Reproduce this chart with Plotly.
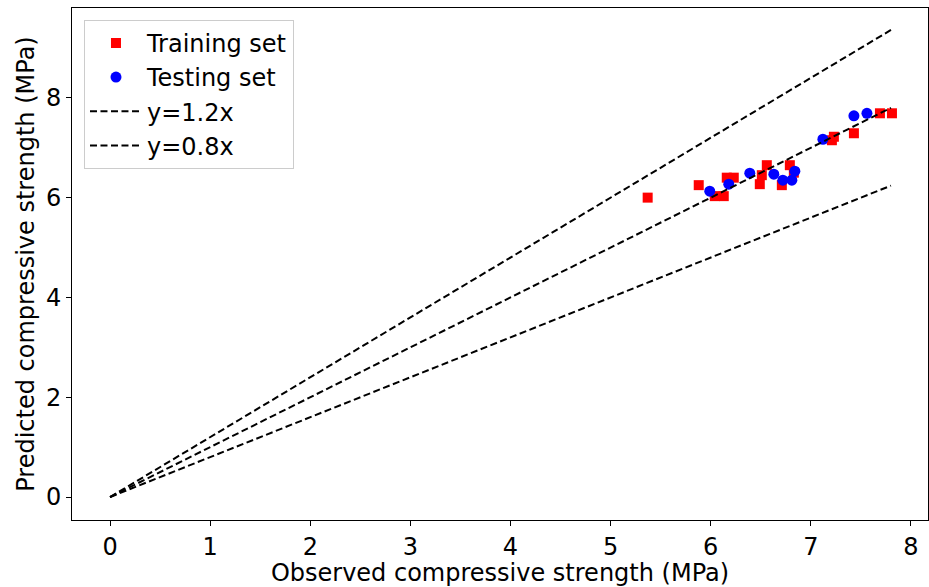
import plotly.graph_objects as go

train_x = [5.37, 5.88, 6.04, 6.13, 6.16, 6.23, 6.49, 6.51, 6.56, 6.71, 6.79, 6.83, 7.21, 7.23, 7.43, 7.69, 7.81]
train_y = [6.00, 6.25, 6.03, 6.03, 6.40, 6.40, 6.27, 6.45, 6.65, 6.25, 6.65, 6.50, 7.15, 7.22, 7.29, 7.69, 7.69]
test_x = [5.99, 6.18, 6.39, 6.63, 6.72, 6.81, 6.84, 7.12, 7.43, 7.56]
test_y = [6.13, 6.27, 6.49, 6.47, 6.35, 6.35, 6.53, 7.17, 7.64, 7.69]
line_x = [0, 7.8]
ratios = [1.2, 1.0, 0.8]
ratio_names = ["y=1.2x", "y=x", "y=0.8x"]
x_ticks = [0, 1, 2, 3, 4, 5, 6, 7, 8]
y_ticks = [0, 2, 4, 6, 8]

FS = 24

fig = go.Figure()
fig.add_trace(go.Scatter(x=train_x, y=train_y, mode="markers", name="Training set",
                         marker=dict(symbol="square", color="red", size=10)))
fig.add_trace(go.Scatter(x=test_x, y=test_y, mode="markers", name="Testing set",
                         marker=dict(symbol="circle", color="blue", size=11)))
for r, nm in zip(ratios, ratio_names):
    fig.add_trace(go.Scatter(x=line_x, y=[r * v for v in line_x], mode="lines", name=nm,
                             showlegend=(r != 1.0),
                             line=dict(color="black", width=2, dash="7px,3.5px")))

axis_common = dict(showgrid=False, zeroline=False, showline=True, linecolor="black", linewidth=1,
                   mirror=True, ticks="outside", ticklen=5, tickcolor="black",
                   tickfont=dict(size=FS, color="black"))
fig.update_layout(
    width=929, height=587,
    margin=dict(l=72, r=1, t=8, b=67),
    plot_bgcolor="white", paper_bgcolor="white",
    font=dict(family="DejaVu Sans", color="black"),
    xaxis=dict(range=[-0.38, 8.17], tickvals=x_ticks,
               title=dict(text="Observed compressive strength (MPa)", font=dict(size=FS), standoff=0),
               **axis_common),
    yaxis=dict(range=[-0.46, 9.8], tickvals=y_ticks,
               title=dict(text="Predicted compressive strength (MPa)", font=dict(size=FS), standoff=4),
               **axis_common),
    legend=dict(x=0.014, y=0.977, xanchor="left", yanchor="top",
                bgcolor="rgba(255,255,255,0.8)", bordercolor="#cccccc", borderwidth=1,
                font=dict(size=FS), itemwidth=52, tracegroupgap=0),
    showlegend=True,
)
fig.write_html("out.html")
